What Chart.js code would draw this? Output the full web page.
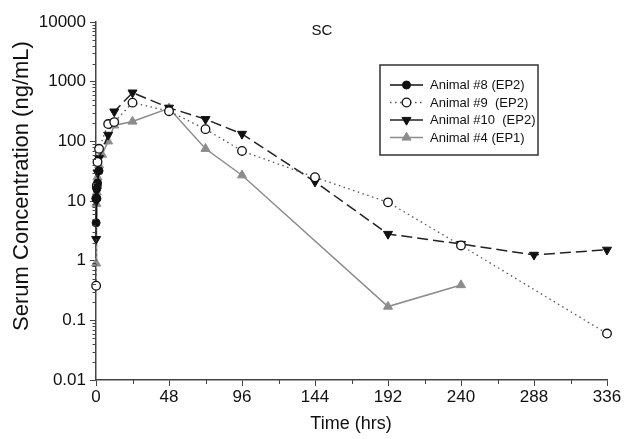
<!DOCTYPE html>
<html><head><meta charset="utf-8">
<script src="https://cdn.jsdelivr.net/npm/chart.js@4"></script>
<style>html,body{margin:0;padding:0;background:#fff}</style>
</head><body>
<canvas id="c" width="629" height="439"></canvas>
<script>
// ---- data ----
const seriesLabels = ['Animal #8 (EP2)', 'Animal #9  (EP2)', 'Animal #10  (EP2)', 'Animal #4 (EP1)'];
const times8  = [0.08, 0.25, 0.5, 1, 2];
const conc8   = [4.3, 11, 16, 20, 32];
const times9  = [0.08, 0.25, 0.5, 1, 2, 8, 12, 24, 48, 72, 96, 144, 192, 240, 336];
const conc9   = [0.38, 11, 18, 45, 75, 195, 210, 445, 320, 160, 69, 25, 9.5, 1.8, 0.06];
const times10 = [0.08, 0.25, 0.5, 1, 2, 8, 12, 24, 48, 72, 96, 144, 192, 240, 288, 336];
const conc10  = [2.3, 10, 15, 30, 52, 128, 315, 655, 365, 235, 133, 21, 2.8, 1.9, 1.25, 1.52];
const times4  = [0.08, 0.25, 0.5, 1, 2, 4, 8, 12, 24, 48, 72, 96, 192, 240];
const conc4   = [0.9, 9, 14, 25, 40, 60, 100, 185, 215, 358, 75, 27, 0.17, 0.39];
const xTickValues = [0, 48, 96, 144, 192, 240, 288, 336];
const xMinorTicks = [24, 72, 120, 168, 216, 264, 312];
const yTickValues = [0.01, 0.1, 1, 10, 100, 1000, 10000];
const yTickLabels = ['0.01', '0.1', '1', '10', '100', '1000', '10000'];
const chartTitle = 'SC';
const xTitle = 'Time (hrs)';
const yTitle = 'Serum Concentration (ng/mL)';

const pts = (t, c) => t.map((x, i) => ({x: x, y: c[i]}));
const FONT = '"Liberation Sans", Arial, Helvetica, sans-serif';

const datasets = [
  {label: seriesLabels[0], data: pts(times8, conc8), borderColor: '#111', backgroundColor: '#111',
   pointBackgroundColor: '#111', pointBorderColor: '#111', pointStyle: 'circle', pointRadius: 4,
   borderWidth: 1.5, pointBorderWidth: 1, borderDash: []},
  {label: seriesLabels[1], data: pts(times9, conc9), borderColor: '#555', backgroundColor: '#fff',
   pointBackgroundColor: '#fff', pointBorderColor: '#111', pointStyle: 'circle', pointRadius: 4.3,
   borderWidth: 1.3, pointBorderWidth: 1.3, borderDash: [1.5, 3.5]},
  {label: seriesLabels[2], data: pts(times10, conc10), borderColor: '#222', backgroundColor: '#111',
   pointBackgroundColor: '#111', pointBorderColor: '#111', pointStyle: 'triangle', pointRotation: 180,
   pointRadius: 5.2, borderWidth: 1.5, pointBorderWidth: 1, borderDash: [11, 5]},
  {label: seriesLabels[3], data: pts(times4, conc4), borderColor: '#8c8c8c', backgroundColor: '#8c8c8c',
   pointBackgroundColor: '#8c8c8c', pointBorderColor: '#8c8c8c', pointStyle: 'triangle', pointRotation: 0,
   pointRadius: 5.2, borderWidth: 1.5, pointBorderWidth: 1, borderDash: []}
];
datasets.forEach(d => { d.tension = 0; d.fill = false; d.clip = false; });

function drawMarker(ctx, ds, x, y) {
  ctx.save();
  ctx.setLineDash([]);
  ctx.fillStyle = ds.pointBackgroundColor;
  ctx.strokeStyle = ds.pointBorderColor;
  ctx.lineWidth = ds.pointBorderWidth;
  const r = ds.pointRadius;
  ctx.beginPath();
  if (ds.pointStyle === 'circle') {
    ctx.arc(x, y, r, 0, Math.PI * 2);
  } else {
    let rad = (ds.pointRotation || 0) * Math.PI / 180;
    ctx.moveTo(x + Math.sin(rad) * r, y - Math.cos(rad) * r);
    rad += 2 * Math.PI / 3;
    ctx.lineTo(x + Math.sin(rad) * r, y - Math.cos(rad) * r);
    rad += 2 * Math.PI / 3;
    ctx.lineTo(x + Math.sin(rad) * r, y - Math.cos(rad) * r);
    ctx.closePath();
  }
  ctx.fill();
  ctx.stroke();
  ctx.restore();
}

const decorPlugin = {
  id: 'decor',
  afterDraw(chart) {
    const ctx = chart.ctx;
    const xs = chart.scales.x, ys = chart.scales.y;
    const ca = chart.chartArea;
    ctx.save();
    // minor y ticks
    ctx.strokeStyle = '#444';
    ctx.lineWidth = 1;
    for (let e = -2; e < 4; e++) {
      for (let k = 2; k <= 9; k++) {
        const y = Math.round(ys.getPixelForValue(k * Math.pow(10, e))) + 0.5;
        ctx.beginPath(); ctx.moveTo(ca.left - 3.5, y); ctx.lineTo(ca.left, y); ctx.stroke();
      }
    }
    // minor x ticks
    xMinorTicks.forEach(v => {
      const x = Math.round(xs.getPixelForValue(v)) + 0.5;
      ctx.beginPath(); ctx.moveTo(x, ca.bottom); ctx.lineTo(x, ca.bottom + 4); ctx.stroke();
    });
    // title
    ctx.fillStyle = '#111';
    ctx.font = '15px ' + FONT;
    ctx.textAlign = 'center'; ctx.textBaseline = 'middle';
    ctx.fillText(chartTitle, 322, 31);
    // axis titles
    ctx.font = '18px ' + FONT;
    ctx.fillText(xTitle, 351, 424);
    ctx.save();
    ctx.translate(22, 186);
    ctx.rotate(-Math.PI / 2);
    ctx.font = '22px ' + FONT;
    ctx.fillText(yTitle, 0, 0);
    ctx.restore();
    // legend
    const bx = 380, by = 65, bw = 158, bh = 90;
    ctx.fillStyle = '#fff';
    ctx.fillRect(bx, by, bw, bh);
    ctx.strokeStyle = '#333';
    ctx.lineWidth = 1.5;
    ctx.strokeRect(bx, by, bw, bh);
    const rowsY = [85, 102.5, 120, 137.5];
    chart.data.datasets.forEach((ds, i) => {
      const y = rowsY[i];
      ctx.save();
      ctx.strokeStyle = ds.borderColor;
      ctx.lineWidth = ds.borderWidth;
      ctx.setLineDash(ds.borderDash && ds.borderDash.length ? (ds.borderDash[0] > 5 ? [] : ds.borderDash) : []);
      ctx.beginPath(); ctx.moveTo(390, y); ctx.lineTo(423, y); ctx.stroke();
      ctx.restore();
      drawMarker(ctx, ds, 406.5, y);
      ctx.fillStyle = '#111';
      ctx.font = '13px ' + FONT;
      ctx.textAlign = 'left'; ctx.textBaseline = 'middle';
      ctx.fillText(ds.label, 430, y + 0.5);
    });
    ctx.restore();
  }
};

new Chart(document.getElementById('c').getContext('2d'), {
  type: 'line',
  data: {datasets: datasets},
  plugins: [decorPlugin],
  options: {
    responsive: false,
    animation: false,
    devicePixelRatio: 1,
    layout: {padding: {top: 22, right: 22, left: 0, bottom: 0}},
    plugins: {legend: {display: false}, tooltip: {enabled: false}, title: {display: false}},
    scales: {
      x: {
        type: 'linear', min: 0, max: 336,
        afterFit: s => { s.height = 59; },
        afterBuildTicks: s => { s.ticks = xTickValues.map(v => ({value: v})); },
        ticks: {color: '#111', font: {family: FONT, size: 17}, padding: 1, maxRotation: 0, autoSkip: false,
                callback: v => String(v)},
        grid: {drawOnChartArea: false, drawTicks: true, tickLength: 6, color: '#444', tickWidth: 1},
        border: {display: true, color: '#444', width: 1.5}
      },
      y: {
        type: 'logarithmic', min: 0.01, max: 10000,
        afterFit: s => { s.width = 96; },
        afterBuildTicks: s => { s.ticks = yTickValues.map(v => ({value: v})); },
        ticks: {color: '#111', font: {family: FONT, size: 17}, padding: 4, autoSkip: false,
                callback: (v) => { const i = yTickValues.indexOf(v); return i >= 0 ? yTickLabels[i] : ''; }},
        grid: {drawOnChartArea: false, drawTicks: true, tickLength: 6, color: '#444', tickWidth: 1},
        border: {display: true, color: '#444', width: 1.5}
      }
    }
  }
});
</script>
</body></html>
